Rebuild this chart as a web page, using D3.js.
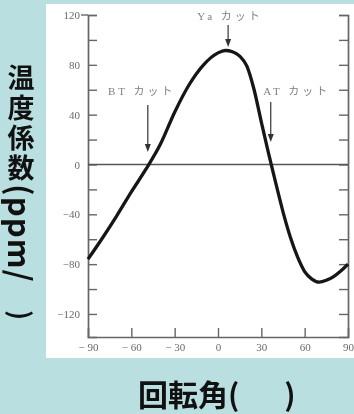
<!DOCTYPE html>
<html>
<head>
<meta charset="utf-8">
<script src="https://cdn.jsdelivr.net/npm/d3@7"></script>
<style>
  html, body { margin: 0; padding: 0; background: #badfe1; }
  svg { display: block; }
</style>
</head>
<body>
<svg id="chart" width="354" height="414"></svg>
<script>
// Rotation angle (deg) and temperature coefficient (ppm/°C)
const angles = [-90, -80, -70, -60, -50, -40, -30, -20, -10, 0, 5, 10, 15, 20, 25, 30, 35, 40, 45, 50, 55, 60, 65, 70, 75, 80, 85, 90];
const coeffs = [-76, -59, -41, -22, -4, 16, 42, 64, 80, 89.6, 91.5, 90.5, 87, 79, 60, 34, 9, -15, -38, -58, -74, -86, -92, -94.5, -93, -90, -85.5, -80];

const yMajorTicks = [120, 80, 40, 0, -40, -80, -120];
const yMajorLabels = ["120", "80", "40", "0", "\u221240", "\u221280", "\u2212120"];
const yMinorTicks = [100, 60, 20, -20, -60, -100];
const xTicks = [-90, -60, -30, 0, 30, 60, 90];
const xTickLabels = ["\u2212 90", "\u2212 60", "\u2212 30", "0", "30", "60", "90"];

// Cut orientations marked on the curve
const cutNames = ["BT カット", "Ya カット", "AT カット"];
const cutAngles = [-48.6, 7, 36.5];

const svg = d3.select("#chart");
const W = 354, H = 414;

svg.append("rect").attr("width", W).attr("height", H).attr("fill", "#badfe1");
svg.append("rect").attr("x", 46).attr("y", 4).attr("width", 308).attr("height", 354).attr("fill", "#ffffff");

const x = d3.scaleLinear().domain([-90, 90]).range([88, 348]);
const y = d3.scaleLinear().domain([-138.5, 120]).range([337, 15]);

const defs = svg.append("defs");
defs.append("filter").attr("id", "soft")
  .append("feGaussianBlur").attr("stdDeviation", 0.55);

const g = svg.append("g").attr("filter", "url(#soft)");
const frameColor = "#666";
const labelColor = "#6a6a6a";
const serif = "'Liberation Serif', 'DejaVu Serif', serif";

// Left axis: inward ticks, labels on majors only
const leftAxis = d3.axisLeft(y)
  .tickValues(yMajorTicks.concat(yMinorTicks))
  .tickSize(-9)
  .tickPadding(8)
  .tickFormat(d => { const i = yMajorTicks.indexOf(d); return i >= 0 ? yMajorLabels[i] : ""; });
const gl = g.append("g").attr("transform", `translate(${x(-90)},0)`).call(leftAxis);

// Right axis: inward ticks, no labels
const rightAxis = d3.axisRight(y)
  .tickValues(yMajorTicks.concat(yMinorTicks))
  .tickSize(-9)
  .tickFormat("");
const gr = g.append("g").attr("transform", `translate(${x(90)},0)`).call(rightAxis);

// Bottom axis: inward ticks on interior values
const bottomAxis = d3.axisBottom(x)
  .tickValues(xTicks)
  .tickSize(-9)
  .tickPadding(6)
  .tickFormat((d, i) => xTickLabels[i]);
const gb = g.append("g").attr("transform", `translate(0,${y(-138.5)})`).call(bottomAxis);

[gl, gr, gb].forEach(a => {
  a.select(".domain").attr("stroke", frameColor).attr("stroke-width", 1.7);
  a.selectAll(".tick line").attr("stroke", frameColor).attr("stroke-width", 1.4);
  a.selectAll(".tick text")
    .attr("fill", labelColor)
    .style("font-family", serif)
    .style("font-size", "11px");
});
gb.selectAll(".tick").filter(d => d === -90 || d === 90).select("line").remove();
// short outward stub at the top of the left axis
g.append("line").attr("x1", x(-90) - 7).attr("x2", x(-90))
  .attr("y1", y(120)).attr("y2", y(120))
  .attr("stroke", frameColor).attr("stroke-width", 1.4);

// Zero line
g.append("line")
  .attr("x1", x(-90)).attr("x2", x(90))
  .attr("y1", y(0)).attr("y2", y(0))
  .attr("stroke", "#555").attr("stroke-width", 1.3);

// Coefficient curve
const pts = angles.map((a, i) => [a, coeffs[i]]);
const line = d3.line()
  .x(d => x(d[0])).y(d => y(d[1]))
  .curve(d3.curveMonotoneX);
g.append("path")
  .datum(pts)
  .attr("d", line)
  .attr("fill", "none")
  .attr("stroke", "#151515")
  .attr("stroke-width", 3.3)
  .attr("stroke-linejoin", "round");

// Cut annotations: label and downward arrow
const arrowTop = [105, 25, 102];
const arrowTip = [152, 47, 142];
const labelBase = [95, 20, 95];
const labelShift = [-6, 2, 26];
cutNames.forEach((name, i) => {
  const ax = x(cutAngles[i]);
  g.append("line")
    .attr("x1", ax).attr("x2", ax)
    .attr("y1", arrowTop[i]).attr("y2", arrowTip[i] - 6)
    .attr("stroke", "#444").attr("stroke-width", 1.3);
  g.append("path")
    .attr("d", `M${ax - 3},${arrowTip[i] - 8} L${ax + 3},${arrowTip[i] - 8} L${ax},${arrowTip[i]} Z`)
    .attr("fill", "#333");
  g.append("text")
    .attr("x", ax + labelShift[i]).attr("y", labelBase[i])
    .attr("text-anchor", "middle")
    .attr("fill", "#808080")
    .style("font-family", "'Liberation Serif', 'Noto Sans CJK JP', serif")
    .style("font-size", "11px")
    .style("letter-spacing", "3px")
    .text(name);
});

// Axis titles (vertical y title)
const yTitle = svg.append("text")
  .attr("x", 21).attr("y", 64)
  .style("writing-mode", "vertical-rl")
  .style("font-family", "'Noto Sans CJK JP', sans-serif")
  .style("font-weight", "bold")
  .style("font-size", "27px")
  .attr("fill", "#111");
yTitle.append("tspan").style("letter-spacing", "3px").text("温度係数");
yTitle.append("tspan").style("letter-spacing", "1px").style("font-size", "31px").text("(ppm/");
yTitle.append("tspan").style("letter-spacing", "0px").text("\u3000)");

svg.append("text")
  .attr("x", 138).attr("y", 406)
  .attr("text-anchor", "start")
  .style("font-family", "'Noto Sans CJK JP', sans-serif")
  .style("font-weight", "bold")
  .style("font-size", "30px")
  .attr("fill", "#111")
  .text("回転角(\u3000\u2002)");
</script>
</body>
</html>
